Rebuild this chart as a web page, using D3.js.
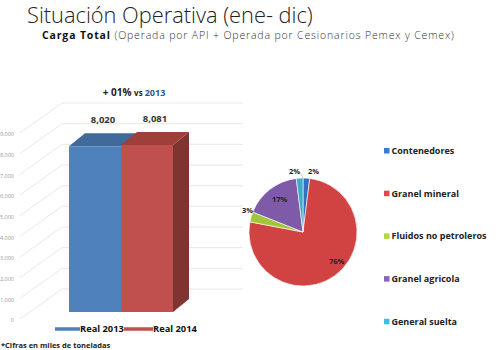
<!DOCTYPE html>
<html>
<head>
<meta charset="utf-8">
<script src="https://cdn.jsdelivr.net/npm/d3@7"></script>
<style>
  body { margin: 0; background: #fff; }
  text { font-family: "Open Sans", "Liberation Sans", sans-serif; }
</style>
</head>
<body>
<script>
var w = 500, h = 350;

// datos
var barYears = ["Real 2013", "Real 2014"];
var barValues = [8020, 8081];
var barLabels = ["8,020", "8,081"];
var yTicks = [0, 1000, 2000, 3000, 4000, 5000, 6000, 7000, 8000, 9000];

var pieCats = ["Contenedores", "Granel mineral", "Fluidos no petroleros", "Granel agricola", "General suelta"];
var pieValues = [2, 76, 3, 17, 2];
var pieColors = ["#3a7ad0", "#e44848", "#b0d840", "#8a62b8", "#40bce0"];

var barColors = ["#4f81bd", "#c0504d"];
var barTops = ["#41699a", "#9e3f3c"];
var barSides = ["#355782", "#7f3432"];

var svg = d3.select("body").append("svg").attr("width", w).attr("height", h);

// titulos
svg.append("text").attr("x", 27).attr("y", 23)
  .attr("font-family", "Lato, sans-serif").attr("font-weight", 300)
  .attr("font-size", 21.8).attr("fill", "#222").text("Situación Operativa (ene- dic)");
var sub = svg.append("text").attr("x", 42).attr("y", 39).attr("font-size", 10.5).attr("fill", "#333")
  .attr("font-family", "Lato, sans-serif").attr("letter-spacing", 0.85);
sub.append("tspan").attr("font-weight", "bold").attr("fill", "#111").text("Carga Total ");
sub.append("tspan").attr("font-weight", 300).text("(Operada por API + Operada por Cesionarios Pemex y Cemex)");

// barras 3d
var y = d3.scaleLinear().domain([0, 9000]).range([319, 133]);
var dx = 16, dy = -13;
var gx = 20, gdx = 42, gdy = -30;

var grid = svg.append("g");
grid.selectAll("path").data(yTicks).enter().append("path")
  .attr("d", function(d) {
    return "M" + gx + "," + y(d) + "L" + (gx + gdx) + "," + (y(d) + gdy) + "L243," + (y(d) + gdy);
  })
  .attr("fill", "none").attr("stroke", "#e2e2e2").attr("stroke-width", 0.8);

var yAxis = d3.axisLeft(y).tickValues(yTicks).tickSize(0).tickPadding(0);
var ax = svg.append("g").attr("transform", "translate(14,1)").call(yAxis);
ax.select(".domain").remove();
ax.selectAll("text").attr("font-size", 5.5).attr("fill", "#999").attr("font-family", "Liberation Sans, sans-serif");

var x = d3.scaleBand().domain(barYears).range([69, 173]).padding(0);
var bars = svg.append("g").selectAll("g").data(barValues).enter().append("g");
function by(v) { return y(v) - 7; }
bars.append("path")
  .attr("d", function(d, i) {
    var x0 = x(barYears[i]) + x.bandwidth(), t = by(d), b = by(0);
    return "M" + x0 + "," + t + "L" + (x0 + dx) + "," + (t + dy) + "L" + (x0 + dx) + "," + (b + dy) + "L" + x0 + "," + b + "Z";
  })
  .attr("fill", function(d, i) { return barSides[i]; });
bars.append("path")
  .attr("d", function(d, i) {
    var x0 = x(barYears[i]), x1 = x0 + x.bandwidth(), t = by(d);
    return "M" + x0 + "," + t + "L" + (x0 + dx) + "," + (t + dy) + "L" + (x1 + dx) + "," + (t + dy) + "L" + x1 + "," + t + "Z";
  })
  .attr("fill", function(d, i) { return barTops[i]; });
bars.append("rect")
  .attr("x", function(d, i) { return x(barYears[i]); })
  .attr("y", function(d) { return by(d); })
  .attr("width", x.bandwidth())
  .attr("height", function(d) { return by(0) - by(d); })
  .attr("fill", function(d, i) { return barColors[i]; });
bars.append("text")
  .attr("x", function(d, i) { return x(barYears[i]) + x.bandwidth() / 2 + dx / 2; })
  .attr("y", function(d) { return by(d) + dy - 10; })
  .attr("text-anchor", "middle").attr("font-size", 9.5).attr("font-weight", "bold").attr("fill", "#333")
  .text(function(d, i) { return barLabels[i]; });

var vs = svg.append("text").attr("x", 134).attr("y", 96).attr("text-anchor", "middle")
  .attr("font-size", 10).attr("font-weight", "bold").attr("fill", "#222");
vs.append("tspan").text("+ 01% ");
vs.append("tspan").attr("font-size", 8).text("vs ");
vs.append("tspan").attr("fill", "#2a5a8c").attr("font-size", 9).text("2013");

// leyenda barras
var legX = [55, 124];
var lg = svg.append("g").selectAll("g").data(barYears).enter().append("g")
  .attr("transform", function(d, i) { return "translate(" + legX[i] + ",329)"; });
lg.append("line").attr("x1", 0).attr("x2", function(d, i) { return i ? 29 : 25; }).attr("stroke-width", 3.5)
  .attr("stroke", function(d, i) { return barColors[i]; });
lg.append("text").attr("x", function(d, i) { return i ? 29 : 25; }).attr("y", 3.4).attr("font-size", 9.3).attr("font-weight", "bold")
  .attr("fill", "#111").attr("font-family", "Liberation Sans, sans-serif").text(function(d) { return d; });

svg.append("text").attr("x", 1).attr("y", 348).attr("font-size", 7.5).attr("font-weight", "bold")
  .attr("fill", "#222").text("*Cifras en miles de toneladas");

// pastel
var cx = 303, cy = 232, r = 54;
var defs = svg.append("defs");
pieColors.forEach(function(c, i) {
  var g = defs.append("radialGradient").attr("id", "pg" + i)
    .attr("gradientUnits", "userSpaceOnUse").attr("cx", cx).attr("cy", cy).attr("r", r);
  g.append("stop").attr("offset", "0.5").attr("stop-color", c);
  g.append("stop").attr("offset", "1").attr("stop-color", d3.color(c).darker(0.25));
});
var pie = d3.pie().sort(null)(pieValues);
var arc = d3.arc().innerRadius(0).outerRadius(r);
var pg = svg.append("g").attr("transform", "translate(" + cx + "," + cy + ")");
pg.selectAll("path").data(pie).enter().append("path")
  .attr("d", arc)
  .attr("fill", function(d, i) { return "url(#pg" + i + ")"; })
  .attr("stroke", "#fff").attr("stroke-width", 0.6);

var pieLabelPos = [[5, -58], [26, 32], [-61, -19], [-31, -30], [-14, -58]];
pg.selectAll("text").data(pie).enter().append("text")
  .attr("x", function(d, i) { return pieLabelPos[i][0]; })
  .attr("y", function(d, i) { return pieLabelPos[i][1]; })
  .attr("font-size", 7.5).attr("font-weight", "bold").attr("fill", "#222")
  .attr("font-family", "Liberation Sans, sans-serif")
  .text(function(d) { return d.value + "%"; });
pg.append("line").attr("x1", -3).attr("y1", -60).attr("x2", 0).attr("y2", -54)
  .attr("stroke", "#999").attr("stroke-width", 0.5);

// leyenda pastel
var pl = svg.append("g").selectAll("g").data(pieCats).enter().append("g")
  .attr("transform", function(d, i) { return "translate(384," + (151 + i * 42.7) + ")"; });
pl.append("rect").attr("x", 0).attr("y", -3).attr("width", 5.5).attr("height", 5.5)
  .attr("fill", function(d, i) { return pieColors[i]; });
pl.append("text").attr("x", 7.5).attr("y", 2.8).attr("font-size", 9).attr("font-weight", "bold")
  .attr("fill", "#222").text(function(d) { return d; });
</script>
</body>
</html>
